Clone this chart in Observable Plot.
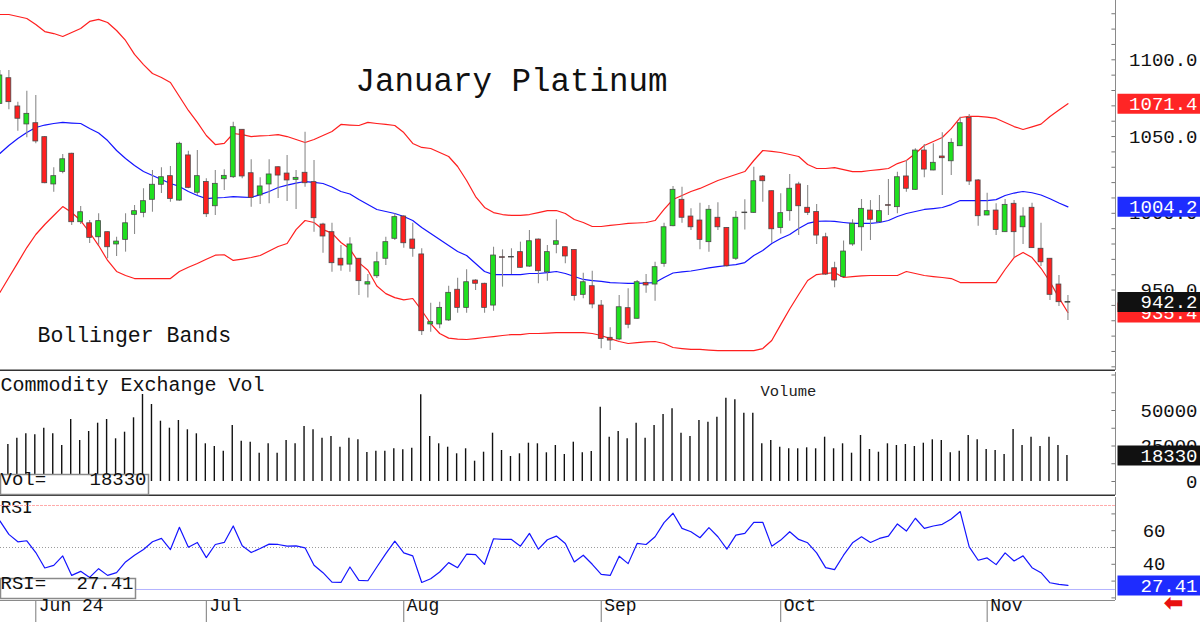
<!DOCTYPE html>
<html><head><meta charset="utf-8">
<script src="https://cdn.jsdelivr.net/npm/d3@7"></script>
<script src="https://cdn.jsdelivr.net/npm/@observablehq/plot@0.6"></script>
<style>
html,body{margin:0;padding:0;background:#fff;}
#chart{position:relative;width:1200px;height:622px;overflow:hidden;background:#fff;}
#chart svg{position:absolute;left:0;display:block;}
</style></head><body><div id="chart"></div>
<script>
// ---------------- DATA (trading-day index starts at -4; index 0 = first June session) ----------------
const firstIndex = -4;
const open = [1071.3,1088.0,1069.6,1057.9,1058.7,1049.6,1018.8,1027.0,1038.8,994.2,993.5,984.4,987.7,979.7,982.7,999.0,1000.3,1008.8,1018.6,1024.2,1008.3,1037.7,1013.4,1020.4,1004.6,1022.2,1023.5,1054.4,1026.1,1011.6,1018.8,1030.0,1025.9,1021.8,1026.4,1020.3,992.7,987.7,970.4,966.6,970.4,953.6,959.0,970.4,983.4,997.9,982.9,973.2,927.6,927.6,930.2,950.2,938.4,956.2,954.1,939.9,971.4,971.5,974.7,965.3,982.9,961.6,979.5,977.9,976.1,946.9,952.5,939.9,918.9,917.8,938.2,931.3,954.7,953.6,967.1,991.6,1008.8,997.9,995.3,981.2,997.1,990.5,970.4,1000.5,1000.3,1024.0,1014.4,990.5,1001.4,1018.8,1003.6,1000.8,984.4,964.2,958.5,979.7,990.9,1001.8,994.2,1005.3,1004.0,1024.0,1015.3,1040.9,1027.9,1037.0,1033.9,1043.7,1062.2,1021.4,998.6,1001.8,987.7,1006.2,990.9,1003.6,976.9,970.4,953.6,941.8];
const high = [1093.0,1093.0,1072.4,1079.5,1076.7,1050.0,1029.6,1038.3,1039.2,1004.4,995.3,999.7,987.9,984.4,999.7,1005.1,1016.0,1027.9,1029.6,1030.5,1046.3,1040.5,1040.9,1022.5,1027.9,1028.3,1059.3,1054.6,1034.9,1023.1,1034.9,1030.3,1037.7,1027.9,1052.8,1034.4,993.5,993.5,979.0,984.0,970.6,960.1,974.7,984.4,999.7,998.6,993.5,976.9,941.4,942.1,952.5,957.7,963.2,956.7,954.5,977.9,976.2,976.9,981.2,988.8,983.3,979.0,995.8,978.1,976.3,961.0,962.3,943.2,925.4,946.5,950.8,956.2,960.1,968.1,993.5,1017.5,1017.0,1002.9,1006.6,1005.1,1006.8,990.7,1001.2,1008.8,1030.0,1024.6,1014.6,1012.7,1025.3,1020.3,1018.1,1005.7,987.0,968.1,982.0,995.8,1009.0,1008.3,1011.6,1022.0,1026.8,1034.4,1042.0,1044.8,1045.3,1052.4,1048.5,1062.6,1064.4,1022.0,1013.1,1006.2,1009.0,1008.3,1003.6,1006.6,993.5,970.6,959.5,946.5];
const low = [1071.0,1067.4,1053.5,1049.2,1045.3,1019.2,1013.7,1025.7,992.0,992.7,980.3,979.0,970.4,971.9,974.7,986.2,997.1,1000.7,1012.9,1007.2,1007.9,1016.0,1011.6,997.3,998.6,1014.9,1022.7,1022.5,1004.0,1005.7,1006.2,1009.6,1007.7,1002.5,1017.0,987.7,974.0,961.6,962.3,961.6,946.5,944.9,957.5,966.0,982.3,977.3,971.4,920.4,922.5,924.8,929.5,934.9,934.9,949.7,934.9,936.2,951.9,960.1,964.3,964.9,954.1,955.8,973.6,967.1,942.9,944.3,937.8,911.7,910.6,917.0,924.8,931.0,947.9,942.7,964.9,991.3,993.5,988.8,976.2,974.7,988.8,964.9,969.3,989.2,1000.0,1007.2,980.5,986.6,994.9,985.5,998.6,979.7,959.5,951.5,958.2,978.5,975.3,982.3,994.0,998.6,999.7,1013.7,1015.1,1023.1,1027.7,1011.6,1024.6,1043.5,1018.1,991.6,998.4,985.5,987.5,971.0,979.7,977.1,965.3,943.2,939.3,930.2];
const close = [1089.8,1072.4,1061.6,1064.8,1046.8,1019.6,1024.2,1035.2,994.2,1000.7,984.0,994.9,977.9,981.6,993.5,1001.4,1007.9,1018.6,1023.5,1009.4,1045.3,1016.6,1024.2,999.4,1019.2,1024.4,1056.1,1024.0,1010.1,1017.5,1025.3,1024.6,1021.4,1023.1,1019.6,996.8,984.9,967.5,966.0,979.7,955.8,955.1,968.1,981.2,997.5,980.5,976.9,923.2,929.1,938.4,948.2,938.4,955.1,954.1,938.4,972.5,971.0,971.2,964.5,981.8,962.3,974.7,981.8,971.9,946.1,955.1,940.6,918.2,917.1,938.8,927.4,955.1,953.0,964.9,990.9,1015.3,997.1,990.9,982.7,1002.3,990.9,965.5,997.1,1000.1,1020.9,1020.9,989.6,1000.1,1016.0,1004.6,1000.3,985.5,960.1,956.2,975.1,993.2,1002.9,995.8,1001.4,1004.9,1023.5,1016.0,1040.9,1028.5,1032.9,1035.9,1045.9,1058.7,1020.7,998.1,1001.4,989.2,1005.5,987.7,997.9,977.3,968.1,946.9,942.1,942.2];
const upperBand = [1129.5,1129.5,1128.2,1126.9,1123.0,1118.4,1117.1,1115.2,1117.8,1120.4,1125.0,1126.3,1124.3,1119.1,1112.6,1103.5,1096.9,1091.1,1088.5,1085.2,1076.1,1067.0,1059.2,1050.7,1044.8,1045.5,1052.0,1051.3,1050.0,1050.4,1050.7,1051.3,1050.0,1048.1,1046.1,1048.1,1050.7,1053.3,1057.9,1057.5,1057.2,1059.2,1058.5,1057.9,1057.2,1052.6,1045.5,1042.9,1042.2,1039.6,1037.0,1030.5,1021.4,1010.9,1003.8,1000.5,999.2,998.6,998.6,999.2,1000.5,1001.8,1001.8,999.9,996.0,994.0,991.4,991.4,992.1,992.7,993.4,993.7,994.0,995.3,1002.5,1009.0,1011.6,1014.2,1016.2,1018.8,1021.4,1023.3,1025.3,1027.2,1034.4,1040.9,1040.3,1039.6,1038.3,1037.0,1031.8,1029.2,1029.2,1029.8,1028.5,1027.2,1027.2,1027.9,1028.5,1029.2,1032.4,1034.4,1039.0,1044.2,1046.8,1049.4,1055.2,1062.4,1063.1,1063.1,1062.7,1061.8,1059.2,1056.5,1054.6,1056.3,1058.1,1063.1,1067.3,1071.4];
const middleBand = [1039.0,1044.2,1048.7,1052.6,1055.9,1057.5,1058.5,1059.2,1058.8,1058.5,1055.2,1052.3,1047.4,1040.9,1035.7,1031.1,1027.2,1024.6,1022.0,1019.4,1017.5,1014.2,1011.6,1009.6,1010.0,1010.3,1010.9,1010.6,1010.3,1012.2,1014.2,1016.8,1018.4,1019.7,1020.7,1020.1,1019.4,1017.1,1014.2,1012.6,1009.0,1005.7,1002.5,1001.2,999.9,997.9,995.3,990.8,986.8,982.9,979.0,975.1,972.5,967.3,962.1,960.1,960.1,960.1,960.1,960.8,960.8,961.4,962.1,960.8,958.8,956.9,956.2,955.6,954.9,954.6,954.3,954.3,954.6,954.9,958.2,961.1,961.8,962.4,963.4,964.4,965.3,966.0,966.6,967.9,972.5,975.8,980.3,983.6,986.2,990.1,993.4,994.7,995.0,994.7,994.0,993.4,993.4,993.4,994.0,995.3,997.9,999.9,1001.2,1002.5,1003.1,1003.8,1005.7,1008.3,1008.3,1008.3,1008.3,1008.9,1011.6,1013.2,1014.2,1013.4,1011.9,1009.5,1006.7,1004.2];
const lowerBand = [948.4,958.2,967.9,977.7,986.2,992.7,998.6,1004.4,1000.5,995.3,987.5,979.0,969.3,962.1,959.5,957.5,957.5,957.5,957.5,957.5,962.1,964.9,967.3,970.1,972.7,973.0,969.3,970.2,971.2,972.5,975.4,978.4,980.3,989.4,995.3,994.0,989.4,987.1,981.0,976.7,967.9,962.9,952.6,947.7,945.1,943.6,944.5,936.7,928.2,921.7,918.7,918.1,917.8,918.4,919.1,919.7,920.4,921.0,921.0,921.7,921.7,922.0,922.3,922.3,922.3,922.3,921.7,920.4,918.4,916.5,915.2,915.8,916.2,916.5,915.2,912.6,911.9,911.3,911.3,910.9,910.6,910.6,910.6,910.6,910.6,911.9,917.1,927.5,937.7,947.1,956.2,960.1,960.8,961.4,958.2,958.8,959.2,959.5,959.5,959.5,959.5,962.1,960.8,959.5,958.8,958.2,957.5,954.9,954.9,954.9,954.9,954.9,963.4,971.2,974.5,971.2,964.2,955.4,944.9,935.4];
const volume = [null,26100,30490,33590,32890,37530,33590,25350,43660,28870,35210,41050,43660,30070,34720,44860,61270,54220,42460,37530,42960,36410,33590,26550,24650,21340,39440,28380,27670,19930,26550,19930,28870,26550,38730,36410,30490,31690,24150,30490,29370,20420,21340,21340,23030,22320,23450,61050,31690,26550,24150,19510,23030,14300,20630,34010,21830,17610,19510,26970,26550,20210,25350,19010,27670,20210,21130,52320,31200,35210,30070,41050,30490,39440,47180,51200,34010,31690,42960,41760,45280,58660,57530,48100,48100,26550,28870,24150,23030,23030,23730,23030,31200,23030,26550,19930,32390,22530,20630,26550,25350,26060,24650,26970,29370,28870,20210,21340,32390,29370,22530,21830,19010,36620,25350,31200,24650,31200,25350,18330];
const rsi = [65.8,57.8,53.4,54.0,47.0,37.8,39.4,45.0,33.4,35.8,32.2,37.4,33.4,35.0,41.4,45.4,48.8,53.4,55.4,48.8,62.0,50.2,53.0,44.0,51.8,53.0,62.8,51.0,47.0,49.4,52.0,51.8,50.8,51.0,49.8,39.4,35.0,29.4,29.2,38.4,30.4,30.2,38.4,46.4,53.8,46.8,45.0,29.2,31.4,35.4,41.0,38.0,46.0,45.8,40.0,55.2,54.8,54.8,50.8,58.4,49.0,54.6,56.8,52.4,41.4,45.4,40.0,34.0,33.4,44.8,40.4,52.4,51.8,56.4,64.8,70.4,61.4,59.4,55.8,61.8,56.4,49.0,57.4,58.4,65.0,65.0,50.8,54.4,59.4,54.8,52.8,46.8,38.0,36.8,45.4,52.8,56.4,53.0,55.4,56.8,64.0,59.8,67.4,61.4,62.8,63.8,67.0,71.4,50.4,42.4,43.8,39.8,46.8,42.0,45.0,38.0,35.0,29.0,28.0,27.41];
const monthTicks = [0, 19, 41, 63, 83, 106];
const monthLabels = ["Jun 24", "Jul", "Aug", "Sep", "Oct", "Nov"];
const priceLabels = [1100, 1050, 1000, 950];
const volumeLabels = [50000, 25000, 0];
const rsiLabels = [60, 40];
const rsiLevels = [75, 50, 25];
const chartTitle = "January Platinum";
const studyTitle = "Bollinger Bands";
const volTitle = "Commodity Exchange Vol";
const volSeriesName = "Volume";
const rsiTitle = "RSI";

// ---------------- BUILD ----------------
const bars = open.map((o, k) => ({
  i: firstIndex + k, open: o, high: high[k], low: low[k], close: close[k],
  upper: upperBand[k], mid: middleBand[k], lower: lowerBand[k],
  vol: volume[k], rsi: rsi[k]
}));
const last = bars[bars.length - 1];

const X_DOMAIN = [-3.933, 120.3];
const PRICE_DOMAIN = [897.6, 1138.63];
const VOL_DOMAIN = [-9859, 76761];
const RSI_DOMAIN = [18.45, 79.76];
const MONO = "Liberation Mono, DejaVu Sans Mono, monospace";
const RED = "#ff1f1f", GREEN = "#1fe01f", BLUE = "#1414ff";

function boxSymbol(w, h) {
  return {draw(ctx) { ctx.moveTo(-w/2, -h/2); ctx.lineTo(w/2, -h/2); ctx.lineTo(w/2, h/2); ctx.lineTo(-w/2, h/2); ctx.closePath(); }};
}
function valueBox(value, text, fill) {
  const d = [{v: value, t: text}];
  return [
    Plot.dot(d, {y: "v", frameAnchor: "right", dx: 43.5, symbol: boxSymbol(83, 20), r: 4, fill, stroke: "none"}),
    Plot.text(d, {y: "v", text: "t", frameAnchor: "right", dx: 82, textAnchor: "end", fill: "white", fontFamily: MONO, fontSize: 19})
  ];
}
function rightLabels(values, fmt, dx = 82, anchor = "end") {
  return Plot.text(values, {y: d => d, text: fmt, frameAnchor: "right", dx, textAnchor: anchor, fill: "#111", fontFamily: MONO, fontSize: 19});
}
function rightTicks(values) {
  return Plot.ruleY(values, {y: d => d, x1: X_DOMAIN[1] - 0.4, x2: X_DOMAIN[1], stroke: "#777"});
}
function cornerText(str, dx, dy, size, extra = {}) {
  return Plot.text([str], {text: d => d, frameAnchor: "top-left", dx, dy, textAnchor: "start", lineAnchor: "middle", fontFamily: MONO, fontSize: size, fill: "#111", ...extra});
}
const common = {width: 1200, marginLeft: 0, marginRight: 85, x: {domain: X_DOMAIN, axis: null}, color: {type: "identity"},
  style: {background: "transparent", fontFamily: MONO}};

const range = (a, b, s) => d3.range(a, b + 0.001, s);

// Price panel
const price = Plot.plot({
  ...common, height: 371, marginTop: 0, marginBottom: 1,
  y: {domain: PRICE_DOMAIN, axis: null},
  marks: [
    cornerText(chartTitle, 355, 80, 32.5),
    cornerText(studyTitle, 37, 335, 21.5),
    Plot.line(bars, {x: "i", y: "upper", stroke: RED, strokeWidth: 1.2}),
    Plot.line(bars, {x: "i", y: "lower", stroke: RED, strokeWidth: 1.2}),
    Plot.line(bars, {x: "i", y: "mid", stroke: BLUE, strokeWidth: 1.2}),
    Plot.ruleX(bars, {x: "i", y1: "low", y2: "high", stroke: "#8c8c8c", strokeWidth: 1.1}),
    Plot.rect(bars, {x1: d => d.i - 0.27, x2: d => d.i + 0.27, y1: "open", y2: "close",
      fill: d => d.close >= d.open ? GREEN : RED, stroke: "#4a4a4a", strokeWidth: 0.8}),
    Plot.ruleY([PRICE_DOMAIN[0]], {stroke: "#333", strokeWidth: 2}),
    Plot.ruleX([X_DOMAIN[1]], {stroke: "#8a8a8a"}),
    rightTicks(range(900, 1130, 10)),
    rightLabels(priceLabels, d => d.toFixed(1)),
    ...valueBox(last.upper, last.upper.toFixed(1), "#ff2525"),
    ...valueBox(last.mid, last.mid.toFixed(1), "#1e2cff"),
    ...valueBox(last.lower, last.lower.toFixed(1), "#ff2525"),
    ...valueBox(last.close, last.close.toFixed(1), "#111")
  ]
});

// Volume panel
const volBars = bars.filter(d => d.vol != null);
const vol = Plot.plot({
  ...common, height: 125, marginTop: 1, marginBottom: 1,
  y: {domain: VOL_DOMAIN, axis: null},
  marks: [
    cornerText(volTitle, 0, 12, 20),
    cornerText(volSeriesName, 760, 19, 15.5, {fill: "#222"}),
    Plot.ruleX(volBars, {x: "i", y1: 0, y2: "vol", stroke: "#111", strokeWidth: 1.4, dx: -1}),
    Plot.ruleY([VOL_DOMAIN[0]], {stroke: "#333", strokeWidth: 2}),
    Plot.ruleX([X_DOMAIN[1]], {stroke: "#8a8a8a"}),
    rightTicks(range(0, 75000, 12500)),
    rightLabels(volumeLabels, d => String(d)),
    ...valueBox(last.vol, String(last.vol), "#111"),
    Plot.dot([0], {frameAnchor: "bottom-left", dx: 74, dy: -11, symbol: boxSymbol(148, 20), r: 4, fill: "white", stroke: "#8a8a8a"}),
    Plot.text(["Vol="], {text: d => d, frameAnchor: "bottom-left", dx: 0, dy: -11, textAnchor: "start", fontFamily: MONO, fontSize: 19, fill: "#111"}),
    Plot.text([String(last.vol)], {text: d => d, frameAnchor: "bottom-left", dx: 146, dy: -11, textAnchor: "end", fontFamily: MONO, fontSize: 19, fill: "#111"})
  ]
});

// RSI panel
const hasAxisMark = typeof Plot.axisX === "function";
const axisMarks = hasAxisMark
  ? [Plot.axisX({ticks: monthTicks, tickSize: 22, tickFormat: () => "", stroke: "#7a7a7a", anchor: "bottom", label: null})]
  : [];
const rsiPlot = Plot.plot({
  ...common, height: 126, marginTop: 1, marginBottom: 22,
  x: hasAxisMark ? {domain: X_DOMAIN, axis: null, label: null} : {domain: X_DOMAIN, ticks: monthTicks, tickSize: 22, tickFormat: () => "", label: null},
  y: {domain: RSI_DOMAIN, axis: null},
  marks: [
    ...axisMarks,
    cornerText(rsiTitle, 0, 10, 18),
    Plot.ruleY([rsiLevels[0]], {stroke: "#ffaaaa", strokeDasharray: "3,1"}),
    Plot.ruleY([rsiLevels[1]], {stroke: "#9a9a9a", strokeDasharray: "1,2"}),
    Plot.ruleY([rsiLevels[2]], {stroke: "#b4b4ff"}),
    Plot.line(bars, {x: "i", y: "rsi", stroke: BLUE, strokeWidth: 1.2}),
    Plot.ruleY([RSI_DOMAIN[0]], {stroke: "#8a8a8a"}),
    Plot.ruleX([X_DOMAIN[1]], {stroke: "#8a8a8a"}),
    rightTicks(range(20, 70, 10)),
    rightLabels(rsiLabels, d => String(d), 50, "end"),
    ...valueBox(last.rsi, last.rsi.toFixed(2), "#1e2cff"),
    Plot.dot([0], {frameAnchor: "bottom-left", dx: 67.5, dy: -12, symbol: boxSymbol(135, 20), r: 4, fill: "white", stroke: "#8a8a8a"}),
    Plot.text(["RSI="], {text: d => d, frameAnchor: "bottom-left", dx: 0, dy: -12, textAnchor: "start", fontFamily: MONO, fontSize: 19, fill: "#111"}),
    Plot.text([last.rsi.toFixed(2)], {text: d => d, frameAnchor: "bottom-left", dx: 133, dy: -12, textAnchor: "end", fontFamily: MONO, fontSize: 19, fill: "#111"}),
    Plot.text(monthTicks, {x: d => d, text: (d, k) => monthLabels[k], frameAnchor: "bottom", dy: 10, dx: 3, textAnchor: "start", fontFamily: MONO, fontSize: 18, fill: "#111"}),
    Plot.text(["⬅"], {text: d => d, frameAnchor: "bottom-right", dx: 68, dy: 10, fill: "#e81010", fontSize: 24, fontWeight: "bold", fontFamily: "DejaVu Sans"})
  ]
});

const chart = document.getElementById("chart");
[[price, 0], [vol, 371], [rsiPlot, 496]].forEach(([svg, top]) => {
  svg.style.top = top + "px";
  chart.appendChild(svg);
});
</script>
</body></html>
